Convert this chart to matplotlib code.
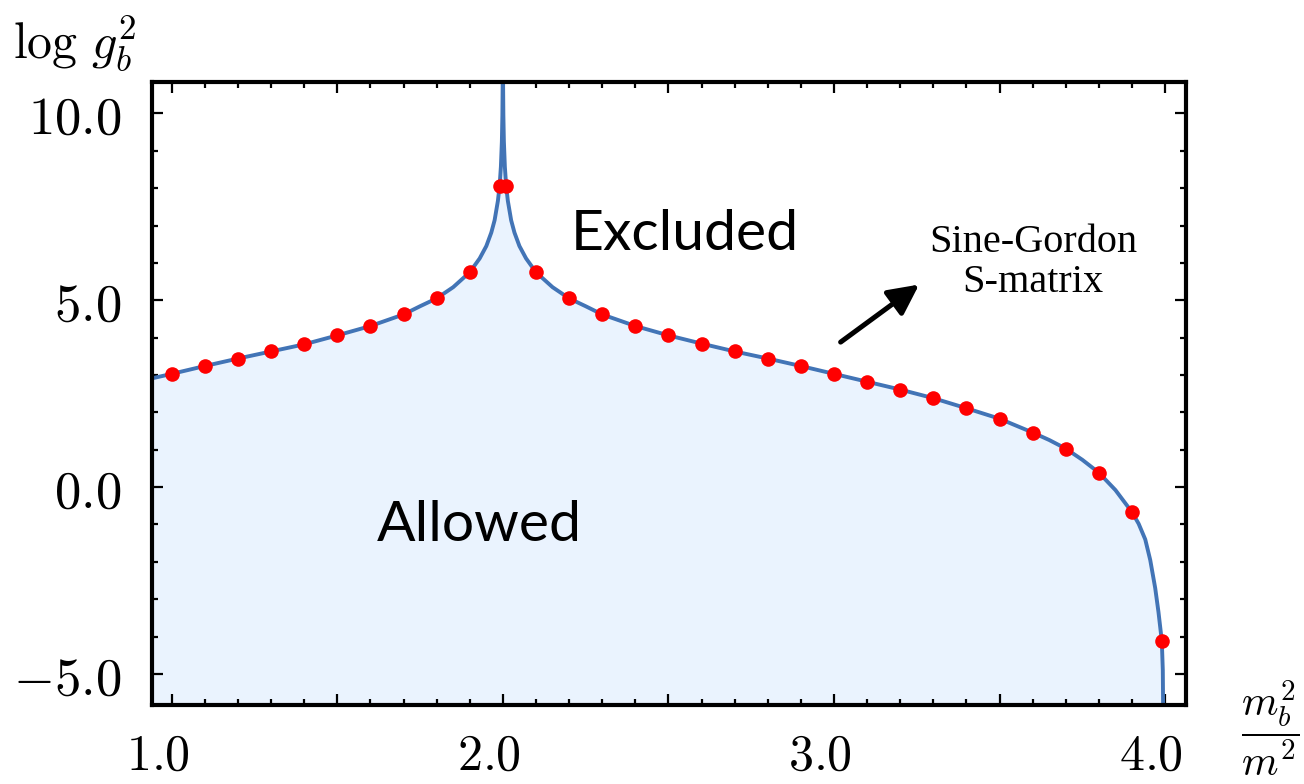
import matplotlib
matplotlib.use("Agg")
import matplotlib.pyplot as plt
import matplotlib.transforms as mtransforms
from matplotlib.ticker import MultipleLocator, FuncFormatter

plt.rcParams["mathtext.fontset"] = "cm"

# upper bound on log g_b^2 as a function of m_b^2/m^2
curve_x = [0.94, 1.0, 1.1, 1.2, 1.3, 1.4, 1.5, 1.6, 1.7, 1.75, 1.8, 1.85,
           1.9, 1.93, 1.95, 1.965, 1.975, 1.985, 1.99, 1.994, 1.997, 1.9985,
           1.9994, 2.0, 2.0006, 2.0015, 2.003, 2.006, 2.01, 2.015, 2.025,
           2.035, 2.05, 2.07, 2.1, 2.15, 2.2, 2.25, 2.3, 2.4, 2.5, 2.6, 2.7,
           2.8, 2.9, 3.0, 3.1, 3.2, 3.3, 3.4, 3.5, 3.6, 3.65, 3.7, 3.75, 3.8,
           3.85, 3.9, 3.92, 3.94, 3.955, 3.97, 3.98, 3.99, 3.993, 3.9945]
curve_y = [2.91, 3.03, 3.24, 3.44, 3.63, 3.82, 4.06, 4.31, 4.62, 4.84, 5.05,
           5.35, 5.75, 6.12, 6.45, 6.81, 7.14, 7.66, 8.05, 8.57, 9.26, 9.95,
           10.85, 12.0, 10.85, 9.95, 9.26, 8.57, 8.05, 7.66, 7.14, 6.81, 6.45,
           6.12, 5.75, 5.35, 5.05, 4.84, 4.62, 4.31, 4.06, 3.84, 3.63, 3.44,
           3.24, 3.03, 2.82, 2.61, 2.38, 2.11, 1.83, 1.46, 1.26, 1.03, 0.73,
           0.385, -0.08, -0.67, -0.98, -1.4, -1.95, -2.7, -3.35, -4.12, -4.9,
           -6.5]

# sine-gordon S-matrix points
dots_x = [1.0, 1.1, 1.2, 1.3, 1.4, 1.5, 1.6, 1.7, 1.8, 1.9, 1.99, 2.01,
          2.1, 2.2, 2.3, 2.4, 2.5, 2.6, 2.7, 2.8, 2.9, 3.0, 3.1, 3.2, 3.3,
          3.4, 3.5, 3.6, 3.7, 3.8, 3.9, 3.99]
dots_y = [3.03, 3.24, 3.44, 3.63, 3.82, 4.06, 4.31, 4.62, 5.05, 5.75, 8.05,
          8.05, 5.75, 5.05, 4.62, 4.31, 4.06, 3.84, 3.63, 3.44, 3.24, 3.03,
          2.82, 2.61, 2.38, 2.11, 1.83, 1.46, 1.03, 0.385, -0.67, -4.12]

LINE_COLOR = "#4274b6"
FILL_COLOR = "#eaf3fe"

fig = plt.figure(figsize=(13.04, 7.84), dpi=100)
ax = fig.add_axes([0.1166, 0.1008, 0.7929, 0.7946])

ax.fill_between(curve_x, curve_y, -20, color=FILL_COLOR, lw=0, zorder=1)
ax.plot(curve_x, curve_y, color=LINE_COLOR, lw=2.8, zorder=2)
ax.plot(dots_x, dots_y, "o", color="#ff0000", ms=10.5, mew=0, zorder=3)

ax.set_xlim(0.9405, 4.063)
ax.set_ylim(-5.83, 10.84)

ax.xaxis.set_major_locator(MultipleLocator(0.5))
ax.xaxis.set_minor_locator(MultipleLocator(0.1))
ax.yaxis.set_major_locator(MultipleLocator(5))
ax.yaxis.set_minor_locator(MultipleLocator(1))


def fmt_x(v, pos):
    if abs(v - round(v)) < 1e-6:
        return f"${v:.1f}$"
    return ""


ax.xaxis.set_major_formatter(FuncFormatter(fmt_x))
ax.yaxis.set_major_formatter(FuncFormatter(lambda v, p: f"${v:.1f}$"))

ax.tick_params(which="both", direction="in", top=True, right=True,
               width=1.6, color="black")
ax.tick_params(which="major", length=7.7, labelsize=38)
ax.tick_params(axis="x", labelsize=36, pad=19)
ax.tick_params(which="minor", length=4)
ax.tick_params(axis="y", pad=22)
for s in ax.spines.values():
    s.set_linewidth(3.0)
    s.set_zorder(5)

# x labels sit a little left of their ticks in the original
shift = mtransforms.ScaledTranslation(-0.14, 0, fig.dpi_scale_trans)
for t in ax.xaxis.get_major_ticks():
    t.label1.set_transform(t.label1.get_transform() + shift)

ax.text(2.55, 6.34, "Excluded", family="Lato", fontsize=41,
        ha="center", va="baseline", zorder=4)
ax.text(1.93, -1.445, "Allowed", family="Lato", fontsize=41,
        ha="center", va="baseline", zorder=4)
ax.text(3.601, 6.0, "Sine-Gordon\nS-matrix", family="Liberation Serif",
        fontsize=29, ha="center", va="center", linespacing=1.1, zorder=4)
ax.annotate("", xy=(3.257, 5.42), xytext=(3.02, 3.88),
            arrowprops=dict(arrowstyle="-|>", lw=3.6, color="black",
                            mutation_scale=46, shrinkA=0, shrinkB=0))

fig.text(0.0575, 0.945, r"$\log\, g_b^2$", fontsize=36,
         ha="center", va="center")
fig.text(0.974, 0.0714, r"$\dfrac{m_b^2}{m^2}$", fontsize=30,
         ha="center", va="center")

fig.savefig("out.png", dpi=100)
